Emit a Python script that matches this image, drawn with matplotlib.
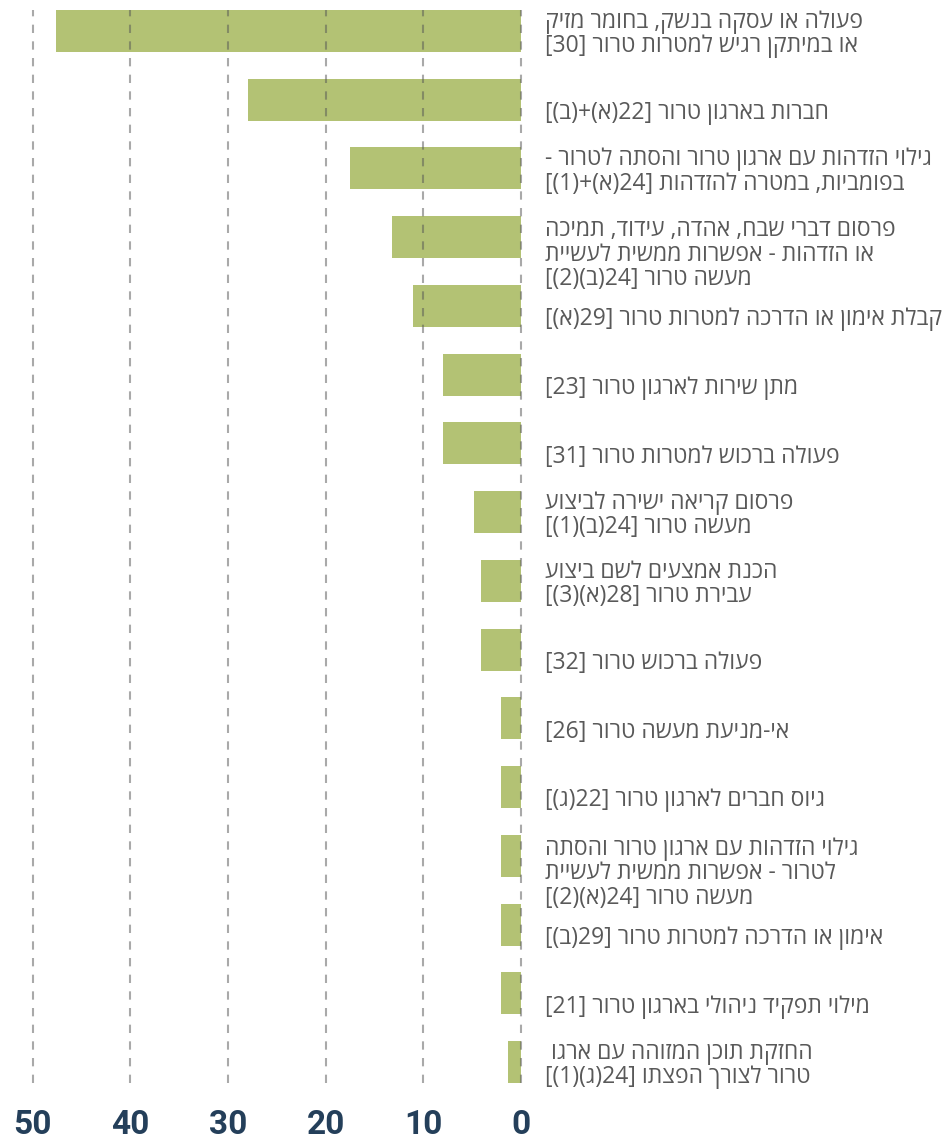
import re
import matplotlib
matplotlib.use("Agg")
import matplotlib.pyplot as plt

# ---- data (logical Hebrew order) ----
labels = [
    "פעולה או עסקה בנשק, בחומר מזיק\nאו במיתקן רגיש למטרות טרור [30]",
    "חברות בארגון טרור [22(א)+(ב)]",
    "גילוי הזדהות עם ארגון טרור והסתה לטרור -\nבפומביות, במטרה להזדהות [24(א)+(1)]",
    "פרסום דברי שבח, אהדה, עידוד, תמיכה\nאו הזדהות - אפשרות ממשית לעשיית\nמעשה טרור [24(ב)(2)]",
    "קבלת אימון או הדרכה למטרות טרור [29(א)]",
    "מתן שירות לארגון טרור [23]",
    "פעולה ברכוש למטרות טרור [31]",
    "פרסום קריאה ישירה לביצוע\nמעשה טרור [24(ב)(1)]",
    "הכנת אמצעים לשם ביצוע\nעבירת טרור [28(א)(3)]",
    "פעולה ברכוש טרור [32]",
    "אי-מניעת מעשה טרור [26]",
    "גיוס חברים לארגון טרור [22(ג)]",
    "גילוי הזדהות עם ארגון טרור והסתה\nלטרור - אפשרות ממשית לעשיית\nמעשה טרור [24(א)(2)]",
    "אימון או הדרכה למטרות טרור [29(ב)]",
    "מילוי תפקיד ניהולי בארגון טרור [21]",
    "החזקת תוכן המזוהה עם ארגו \nטרור לצורך הפצתו [24(ג)(1)]",
]
values = [47.6, 27.9, 17.5, 13.2, 11.1, 8.0, 8.0, 4.8, 4.1, 4.1, 2.0, 2.0, 2.0, 2.0, 2.0, 1.3]
xticks = [50, 40, 30, 20, 10, 0]

MIRROR = {'(': ')', ')': '(', '[': ']', ']': '['}


def visual_line(s):
    tokens = re.findall(r'\d+|.', s)
    return ''.join(MIRROR.get(t, t) for t in reversed(tokens))


def visual(s):
    return '\n'.join(visual_line(l) for l in s.split('\n'))


W, H = 950, 1141
fig = plt.figure(figsize=(W / 100, H / 100), dpi=100)
left_px, right_px, top_px, bot_px = 10, 530, 10, 1083
ax = fig.add_axes([left_px / W, 1 - bot_px / H, (right_px - left_px) / W, (bot_px - top_px) / H])

px_per_unit = (521 - 32.5) / 50
x_left = 50 + (32.5 - left_px) / px_per_unit
x_right = -(right_px - 521) / px_per_unit

n = len(values)
ypos = list(range(n))
bh = 0.61
ax.barh(ypos, values, height=bh, color="#b3c274", zorder=2)
ax.set_xlim(x_left, x_right)
ax.set_ylim(n - 1 + bh / 2, -bh / 2)

for xv in xticks:
    ax.axvline(xv, color="#555555", alpha=0.5, lw=1.5, dashes=(4, 4), zorder=3)

for sp in ax.spines.values():
    sp.set_visible(False)
ax.set_yticks([])
ax.set_xticks(xticks)
ax.set_xticklabels([str(t) for t in xticks], fontsize=24, fontweight="bold",
                   color="#243f5a", family=["Roboto", "DejaVu Sans"])
ax.tick_params(axis="x", length=0, pad=19)

offsets = {1: -9.6, 2: -2.2, 3: -12.6}
for i, lab in enumerate(labels):
    nl = lab.count('\n') + 1
    ax.annotate(visual(lab), xy=(0, i), xytext=(17.3, offsets.get(nl, 0)),
                textcoords="offset points", ha="left", va="center",
                fontsize=16.5, color="#595959", linespacing=1.03,
                family=["Open Sans", "Liberation Sans", "DejaVu Sans"],
                annotation_clip=False)

fig.savefig("out.png", dpi=100)
